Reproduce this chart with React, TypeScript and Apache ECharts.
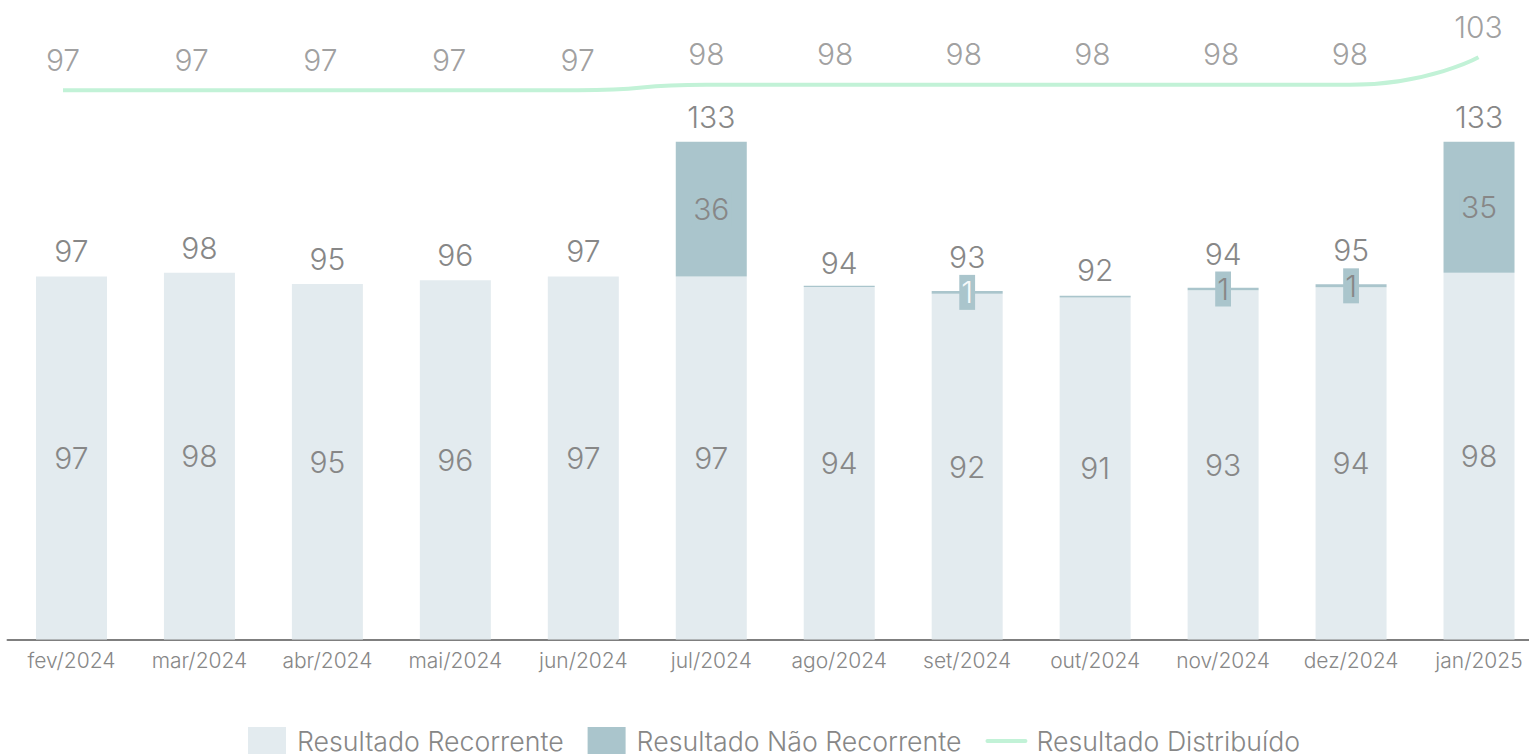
import React, { useEffect, useRef } from "react";
import * as echarts from "echarts";

const categories = ["fev/2024", "mar/2024", "abr/2024", "mai/2024", "jun/2024", "jul/2024", "ago/2024", "set/2024", "out/2024", "nov/2024", "dez/2024", "jan/2025"];
const recorrente = [97, 98, 95, 96, 97, 97, 94.2, 92.4, 91.4, 93.3, 94.1, 98];
const naoRecorrente = [0, 0, 0, 0, 0, 36, 0.3, 0.7, 0.45, 0.7, 0.8, 35];
const totais = [97, 98, 95, 96, 97, 133, 94, 93, 92, 94, 95, 133];
const distribuido = [97, 97, 97, 97, 97, 98, 98, 98, 98, 98, 98, 103];

const FONT = "Inter";
const GREY = "#878787";
const C_REC = "#e3ebef";
const C_NREC = "#aac5cc";
const C_LINE = "#c2f2d7";

export default function App() {
  const ref = useRef<HTMLDivElement>(null);
  useEffect(() => {
    if (!ref.current) return;
    const chart = echarts.init(ref.current, undefined, { renderer: "svg" });
    const labelBase = { fontFamily: FONT, fontSize: 30, fontWeight: 300, color: GREY };
    const smallBoxShown = (v: number) => v > 0 && v < 2 && Math.round(v) > 0;
    chart.setOption({
      animation: false,
      textStyle: { fontFamily: FONT },
      grid: [
        { left: 7.5, right: 0, top: 10, bottom: 114.5 },
        { left: 63, right: 64.5, top: 10, bottom: 114.5 },
      ],
      xAxis: [
        {
          type: "category",
          gridIndex: 0,
          data: categories,
          axisLine: { show: true, lineStyle: { color: "#7f7f7f", width: 2 } },
          axisTick: { show: false },
          axisLabel: { color: GREY, fontSize: 21, fontWeight: 300, fontFamily: FONT, margin: 10 },
        },
        {
          type: "category",
          gridIndex: 1,
          data: categories,
          boundaryGap: false,
          show: false,
        },
      ],
      yAxis: [
        { type: "value", gridIndex: 0, min: 0, max: 168.2, show: false, splitLine: { show: false } },
        { type: "value", gridIndex: 1, min: -2.85, max: 111.6, show: false, splitLine: { show: false } },
      ],
      legend: {
        left: 243,
        top: 722,
        itemWidth: 38,
        itemHeight: 28,
        itemGap: 24,
        textStyle: { fontFamily: FONT, fontSize: 26.7, fontWeight: 300, color: GREY, padding: [0, 0, 0, 6] },
        data: [
          { name: "Resultado Recorrente", icon: "rect" },
          { name: "Resultado Não Recorrente", icon: "rect" },
          {
            name: "Resultado Distribuído",
            itemStyle: { opacity: 0 },
            lineStyle: { width: 4, color: C_LINE, cap: "round" },
          },
        ],
      },
      series: [
        {
          name: "Resultado Recorrente",
          type: "bar",
          stack: "r",
          barWidth: 71,
          xAxisIndex: 0,
          yAxisIndex: 0,
          itemStyle: { color: C_REC },
          label: {
            show: true,
            position: "inside",
            ...labelBase,
            formatter: (p: any) => String(Math.round(p.value)),
          },
          data: recorrente,
        },
        {
          name: "Resultado Não Recorrente",
          type: "bar",
          stack: "r",
          barWidth: 71,
          xAxisIndex: 0,
          yAxisIndex: 0,
          itemStyle: { color: C_NREC },
          label: {
            show: true,
            position: "inside",
            ...labelBase,
            backgroundColor: C_NREC,
            padding: [3, 2, 2, 2],
            formatter: (p: any) => String(Math.round(p.value)),
          },
          data: naoRecorrente.map((v, i) => {
            if (Math.round(v) === 0) return { value: v, label: { show: false } };
            if (i === 7) return { value: v, label: { color: "#f6f9fa" } };
            return v;
          }),
        },
        {
          name: "totais",
          type: "bar",
          barWidth: 71,
          barGap: "-100%",
          xAxisIndex: 0,
          yAxisIndex: 0,
          silent: true,
          itemStyle: { color: "rgba(0,0,0,0)" },
          label: { show: true, position: "top", distance: 10, ...labelBase },
          data: totais.map((v, i) =>
            smallBoxShown(naoRecorrente[i]) ? { value: v, label: { distance: 19 } } : v
          ),
          z: 1,
        },
        {
          name: "Resultado Distribuído",
          type: "line",
          xAxisIndex: 1,
          yAxisIndex: 1,
          smooth: 0.6,
          symbol: "none",
          lineStyle: { color: C_LINE, width: 4 },
          itemStyle: { color: C_LINE },
          data: distribuido,
        },
        {
          name: "rotulos",
          type: "scatter",
          xAxisIndex: 1,
          yAxisIndex: 1,
          symbolSize: 1,
          silent: true,
          itemStyle: { color: "rgba(0,0,0,0)" },
          label: { show: true, position: "top", distance: 15, ...labelBase },
          data: distribuido,
        },
      ],
    });
    return () => chart.dispose();
  }, []);
  return (
    <div style={{ position: "absolute", left: 0, top: 0, width: 1529, height: 754, overflow: "hidden" }}>
      <div ref={ref} style={{ width: 1543, height: 754 }} />
    </div>
  );
}
